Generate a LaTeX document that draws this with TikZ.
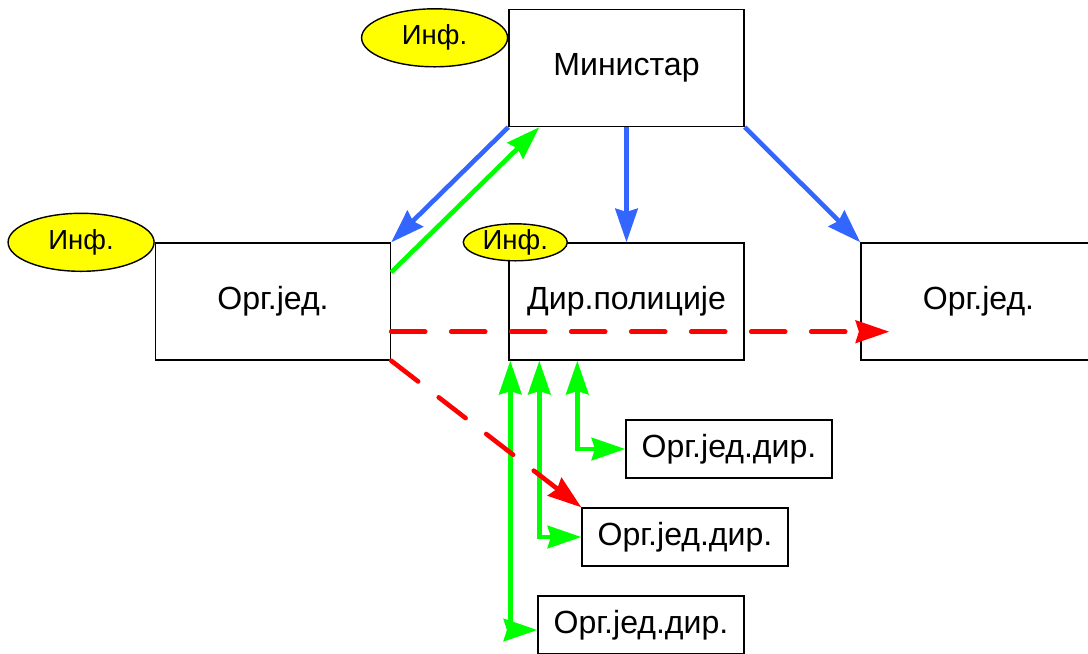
\documentclass[tikz,border=0pt]{standalone}
\usepackage{fontspec}
\setmainfont{Liberation Sans}
\usepackage{tikz}
\usetikzlibrary{arrows.meta,shapes,positioning}
\usepackage{xcolor}
\definecolor{orgblue}{RGB}{51,102,255}
\definecolor{orggreen}{RGB}{0,255,0}
\definecolor{orgred}{RGB}{255,0,0}
\definecolor{infyellow}{RGB}{255,255,0}
\tikzstyle{unit} = [rectangle, draw=black, line width=1pt, minimum width=5.875cm, minimum height=2.925cm, fill=white, font=\fontsize{22.8}{27}\selectfont]
\tikzstyle{subunit} = [unit, minimum width=5.15cm, minimum height=1.45cm]
\tikzstyle{inf} = [ellipse, draw=black, line width=1pt, fill=infyellow, minimum width=3.65cm, minimum height=1.45cm, inner sep=0pt, font=\fontsize{19.6}{23}\selectfont]
\tikzstyle{order} = [line width=0.115cm, ->, color=orgblue]
\tikzstyle{report} = [line width=0.115cm, color=orggreen]
\tikzstyle{direct} = [line width=0.115cm, ->, color=orgred, dash pattern=on 0.85cm off 0.65cm, line cap=round]

\begin{document}
\begin{tikzpicture}[>={Stealth[length=0.84cm, width=0.56cm, inset=0.08cm]}]
\useasboundingbox (0,0) rectangle (27.2,-16.325);

\node (min) [unit] at (15.6625,-1.7) {Министар};
\node (dir) [unit, below of=min, node distance=5.8375cm] {Дир.полиције};
\node (orgL) [unit, left of=dir, node distance=8.8375cm] {Орг.јед.};
\node (orgR) [unit, right of=dir, node distance=8.8cm] {Орг.јед.};

\node (dir1) [subunit] at (18.225,-11.225) {Орг.јед.дир.};
\node (dir2) [subunit] at (17.125,-13.425) {Орг.јед.дир.};
\node (dir3) [subunit] at (16.025,-15.625) {Орг.јед.дир.};

\node (infM) [inf, anchor=east] at ([yshift=-0.725cm]min.north west) {Инф.};
\node (infL) [inf, anchor=east] at (orgL.north west) {Инф.};
\node (infD) [inf, minimum width=2.6cm, minimum height=0.925cm] at ([xshift=0.175cm]dir.north west) {Инф.};

\draw[order] (min.south west) -- (orgL.north east);
\draw[order] (min.south) -- (dir.north);
\draw[order] (min.south east) -- (orgR.north west);

\draw[report, ->] ([yshift=-0.75cm]orgL.north east) -- ([xshift=0.775cm]min.south west);
\draw[report, <->] ([xshift=1.725cm]dir.south west) |- (dir1.west);
\draw[report, <->] ([xshift=0.775cm]dir.south west) |- (dir2.west);
\draw[report, <->] ([xshift=0.05cm]dir.south west) |- ([yshift=-0.125cm]dir3.west);

\draw[direct] ([yshift=0.725cm]orgL.south east) -- ([xshift=0.725cm, yshift=0.725cm]orgR.south west);
\draw[direct] (orgL.south east) -- (dir2.north west);
\end{tikzpicture}
\end{document}
